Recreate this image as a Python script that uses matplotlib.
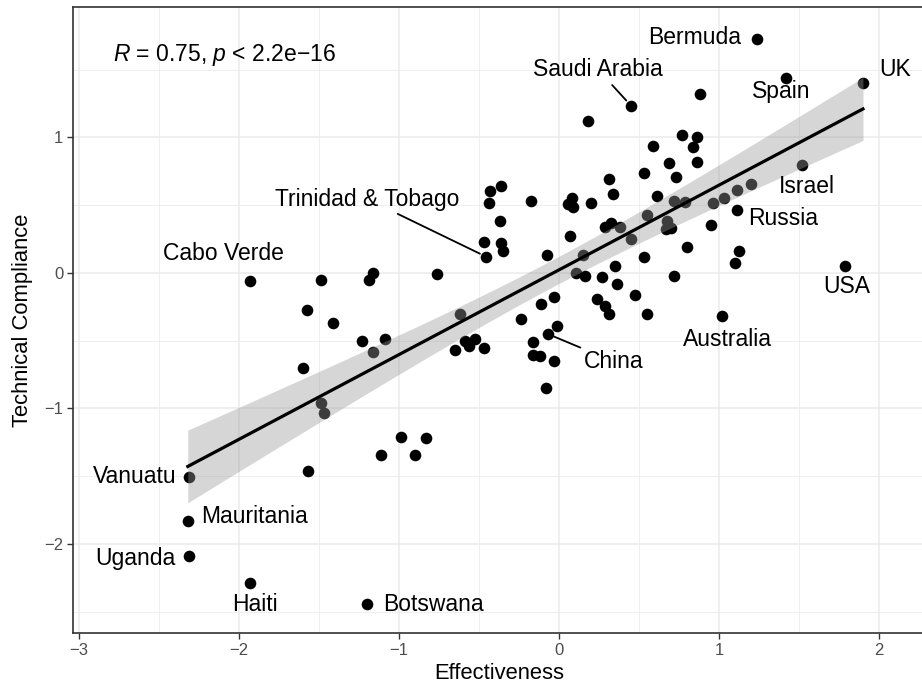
import numpy as np
import matplotlib
matplotlib.use("Agg")
import matplotlib.pyplot as plt
from matplotlib.ticker import MultipleLocator

plt.rcParams['font.family'] = ['Liberation Sans', 'DejaVu Sans']
plt.rcParams['mathtext.fontset'] = 'custom'
plt.rcParams['mathtext.rm'] = 'Liberation Sans'
plt.rcParams['mathtext.it'] = 'Liberation Sans:italic'

# labelled countries (effectiveness, technical compliance)
countries = ["Bermuda", "Saudi Arabia", "UK", "Spain", "Israel", "Russia", "USA",
             "Australia", "China", "Trinidad & Tobago", "Cabo Verde", "Vanuatu",
             "Mauritania", "Uganda", "Haiti", "Botswana"]
country_eff = [1.235, 0.45, 1.90, 1.42, 1.52, 1.11, 1.79,
               1.02, -0.07, -0.455, -1.93, -2.31,
               -2.32, -2.31, -1.93, -1.20]
country_tc = [1.73, 1.235, 1.40, 1.44, 0.80, 0.465, 0.05,
              -0.32, -0.45, 0.12, -0.06, -1.505,
              -1.83, -2.09, -2.29, -2.445]

# remaining jurisdictions
other_eff = [-1.49, -1.16, -1.19, -0.76, -1.575, -1.41, -0.62, -1.23, -1.09, -1.16,
             -1.60, -1.49, -1.47, -0.99, -0.83, -1.11, -0.90, -1.57,
             -0.59, -0.525, -0.56, -0.65, -0.47, -0.24, -0.11, -0.03, -0.01, -0.16,
             -0.16, -0.12, -0.03, -0.08,
             -0.36, -0.43, -0.435, -0.175, -0.37, -0.47, -0.36, -0.35, -0.075,
             0.18, 0.77, 0.86, 0.84, 0.59, 0.69, 0.86, 0.53, 0.73, 0.31, 0.34, 0.61,
             0.08, 0.055, 0.09, 0.20, 0.72, 0.79, 0.965, 0.55, 0.675, 0.70, 0.67,
             0.95, 0.07, 0.285, 0.325, 0.38, 0.45,
             0.88, 1.20, 1.11, 1.03, 0.80, 1.125, 1.10, 0.72, 0.53, 0.35, 0.15,
             0.105, 0.16, 0.27, 0.36, 0.475, 0.24, 0.29, 0.31, 0.55]
other_tc = [-0.05, 0.00, -0.05, -0.01, -0.27, -0.37, -0.30, -0.50, -0.49, -0.585,
            -0.70, -0.96, -1.03, -1.21, -1.215, -1.345, -1.34, -1.46,
            -0.50, -0.49, -0.54, -0.57, -0.55, -0.34, -0.23, -0.18, -0.39, -0.51,
            -0.605, -0.61, -0.65, -0.85,
            0.64, 0.605, 0.52, 0.53, 0.38, 0.23, 0.22, 0.16, 0.13,
            1.12, 1.02, 1.00, 0.93, 0.94, 0.81, 0.82, 0.74, 0.71, 0.69, 0.58, 0.57,
            0.55, 0.51, 0.49, 0.52, 0.53, 0.525, 0.52, 0.43, 0.38, 0.33, 0.325,
            0.355, 0.27, 0.34, 0.37, 0.34, 0.25,
            1.32, 0.66, 0.61, 0.55, 0.19, 0.16, 0.07, -0.02, 0.12, 0.05, 0.135,
            0.00, -0.02, -0.03, -0.08, -0.16, -0.19, -0.24, -0.305, -0.30]

# where each country name sits
label_pos = {
    "Bermuda": (0.85, 1.74), "Saudi Arabia": (0.245, 1.50), "UK": (2.10, 1.50),
    "Spain": (1.39, 1.34), "Israel": (1.55, 0.64), "Russia": (1.40, 0.40),
    "USA": (1.80, -0.10), "Australia": (1.05, -0.49), "China": (0.345, -0.655),
    "Trinidad & Tobago": (-1.20, 0.546), "Cabo Verde": (-2.10, 0.145),
    "Vanuatu": (-2.65, -1.50), "Mauritania": (-1.90, -1.80), "Uganda": (-2.65, -2.105),
    "Haiti": (-1.90, -2.445), "Botswana": (-0.785, -2.445),
}
with_segment = ["Saudi Arabia", "China", "Trinidad & Tobago"]

x = np.array(country_eff + other_eff)
y = np.array(country_tc + other_tc)

# linear fit with 95% confidence band
n = len(x)
slope, intercept = np.polyfit(x, y, 1)
resid = y - (slope * x + intercept)
s = np.sqrt(np.sum(resid ** 2) / (n - 2))
xs = np.linspace(x.min(), x.max(), 100)
fit = slope * xs + intercept
se = s * np.sqrt(1 / n + (xs - x.mean()) ** 2 / np.sum((x - x.mean()) ** 2))
t = 1.983
r = np.corrcoef(x, y)[0, 1]

fig = plt.figure(figsize=(9.22, 6.88), dpi=100)
ax = fig.add_axes([73 / 922, 55 / 688, 853 / 922, 626 / 688])

ax.scatter(x, y, s=70, color="black", linewidths=0, zorder=3)
ax.fill_between(xs, fit - t * se, fit + t * se, color="#999999", alpha=0.4,
                linewidth=0, zorder=4)
ax.plot(xs, fit, color="black", linewidth=2.3, zorder=5)

for name, cx, cy in zip(countries, country_eff, country_tc):
    tx, ty = label_pos[name]
    if name in with_segment:
        ax.annotate(name, xy=(cx, cy), xytext=(tx, ty), fontsize=16.5,
                    ha="center", va="center", zorder=6,
                    arrowprops=dict(arrowstyle="-", color="black", lw=1.3,
                                    shrinkA=1, shrinkB=5))
    else:
        ax.text(tx, ty, name, fontsize=16.5, ha="center", va="center", zorder=6)

ax.text(-2.79, 1.61, r"$R$ = %.2f, $p$ < 2.2e−16" % r, fontsize=16.5,
        ha="left", va="center")

ax.set_xlim(-3.0375, 2.294)
ax.set_ylim(-2.657, 1.963)
ax.xaxis.set_major_locator(MultipleLocator(1))
ax.yaxis.set_major_locator(MultipleLocator(1))
ax.xaxis.set_minor_locator(MultipleLocator(0.5))
ax.yaxis.set_minor_locator(MultipleLocator(0.5))
ax.grid(which="major", color="#EBEBEB", linewidth=1.1, zorder=0)
ax.grid(which="minor", color="#EBEBEB", linewidth=0.55, zorder=0)
ax.set_axisbelow(True)
ax.tick_params(which="major", length=4, width=1.0, color="#333333",
               labelsize=12, labelcolor="#4D4D4D", pad=3)
ax.tick_params(which="minor", length=0)
for sp in ax.spines.values():
    sp.set_color("#333333")
    sp.set_linewidth(1.2)

ax.set_xlabel("Effectiveness", fontsize=15.8, labelpad=4)
ax.set_ylabel("Technical Compliance", fontsize=15.8, labelpad=8)

fig.savefig("out.png", dpi=100)
